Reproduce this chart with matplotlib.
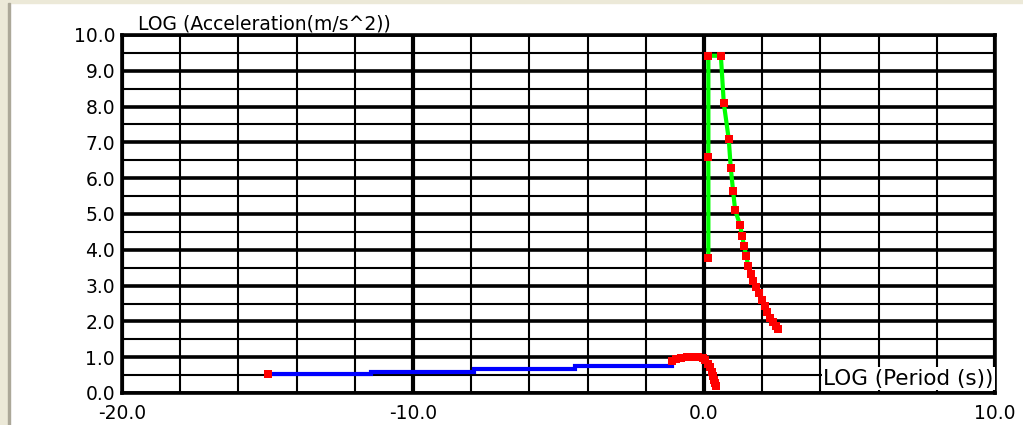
import matplotlib
matplotlib.use("Agg")
import matplotlib.pyplot as plt
from matplotlib.ticker import FuncFormatter, MultipleLocator
from matplotlib.patches import Rectangle

# ---- data (LOG period, LOG acceleration) ----
blue_x = [-15.0, -11.45, -11.45, -7.9, -7.9, -4.45, -4.45, -1.1]
blue_y = [0.52, 0.52, 0.60, 0.60, 0.67, 0.67, 0.76, 0.76]
blue_start_x = [-15.0]
blue_start_y = [0.52]

low_x = [-1.1, -0.95, -0.8, -0.6, -0.4, -0.2, -0.05, 0.05, 0.13, 0.2, 0.26, 0.32, 0.36, 0.39, 0.42]
low_y = [0.88, 0.95, 0.99, 1.0, 1.0, 1.0, 0.98, 0.92, 0.82, 0.72, 0.60, 0.48, 0.37, 0.28, 0.20]

green_x = [0.15, 0.15, 0.15, 0.58, 0.68, 0.85, 0.92, 1.0, 1.07, 1.24,
           1.31, 1.38, 1.45, 1.52, 1.60, 1.68, 1.78, 1.88, 1.98, 2.08, 2.18, 2.28, 2.38, 2.46, 2.54]
green_y = [3.78, 6.58, 9.42, 9.42, 8.10, 7.09, 6.29, 5.64, 5.11, 4.69,
           4.38, 4.10, 3.82, 3.56, 3.32, 3.12, 2.95, 2.78, 2.60, 2.42, 2.25, 2.10, 1.97, 1.87, 1.78]

x_limits = (-20, 10)
y_limits = (0, 10)
x_label = "LOG (Period (s))"
y_label = "LOG (Acceleration(m/s^2))"

W, H = 1023, 425
fig = plt.figure(figsize=(W / 100, H / 100), dpi=100)
fig.patch.set_facecolor("white")

# window frame strips
fig.patches.append(Rectangle((0, 0), 8 / W, 1, transform=fig.transFigure, color="#ECE9D8", zorder=0))
fig.patches.append(Rectangle((0, 1 - 3 / H), 1, 3 / H, transform=fig.transFigure, color="#ECE9D8", zorder=0))
fig.patches.append(Rectangle((8 / W, 0), 1.5 / W, 1 - 3 / H, transform=fig.transFigure, color="#ACA899", zorder=0))

left, right, bottom, top = 122, 995, 393, 35
ax = fig.add_axes([left / W, 1 - bottom / H, (right - left) / W, (bottom - top) / H])
ax.set_xlim(*x_limits)
ax.set_ylim(*y_limits)

ax.xaxis.set_major_locator(MultipleLocator(10))
ax.xaxis.set_minor_locator(MultipleLocator(2))
ax.yaxis.set_major_locator(MultipleLocator(1))
ax.yaxis.set_minor_locator(MultipleLocator(0.5))
fmt = FuncFormatter(lambda v, p: f"{v:.1f}")
ax.xaxis.set_major_formatter(fmt)
ax.yaxis.set_major_formatter(fmt)

ax.grid(which="major", axis="x", color="black", lw=3.0)
ax.grid(which="minor", axis="x", color="black", lw=1.5)
ax.grid(which="major", axis="y", color="black", lw=2.6)
ax.grid(which="minor", axis="y", color="black", lw=1.5)
ax.set_axisbelow(True)
ax.tick_params(which="both", length=0)
ax.tick_params(axis="y", pad=5, labelsize=13.5)
ax.tick_params(axis="x", pad=8, labelsize=13.5)
for s in ax.spines.values():
    s.set_linewidth(2.6)
    s.set_color("black")

ax.plot(blue_x, blue_y, color="#0000FF", lw=3.0, solid_joinstyle="miter", zorder=3)
ax.plot(blue_start_x, blue_start_y, "s", color="#FF0000", ms=6, mew=0, zorder=4)
ax.plot(low_x, low_y, color="#FF0000", lw=3.5, zorder=3)
ax.plot(low_x, low_y, "s", color="#FF0000", ms=6, mew=0, zorder=4)
ax.plot(green_x, green_y, color="#00FF00", lw=3.0, zorder=3)
ax.plot(green_x, green_y, "s", color="#FF0000", ms=6, mew=0, zorder=4)

ax.text(0.018, 1.005, y_label, transform=ax.transAxes, fontsize=13.5,
        ha="left", va="bottom", family="DejaVu Sans")
ax.text(0.998, 0.012, x_label, transform=ax.transAxes, fontsize=15.5,
        ha="right", va="bottom", family="DejaVu Sans", zorder=5,
        bbox=dict(facecolor="white", edgecolor="none", pad=1.0))

fig.savefig("out.png", dpi=100)
